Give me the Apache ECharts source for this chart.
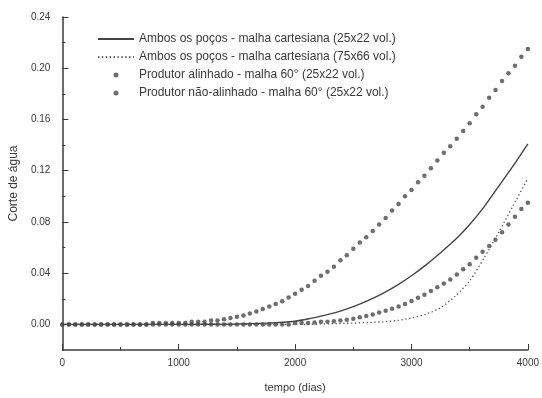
<!DOCTYPE html>
<html>
<head>
<meta charset="utf-8">
<script src="https://cdn.jsdelivr.net/npm/echarts@6/dist/echarts.min.js"></script>
<style>
  html, body { margin: 0; padding: 0; background: #fff; }
  #chart { width: 542px; height: 398px; filter: blur(0.35px); }
</style>
</head>
<body>
<div id="chart"></div>
<script>
// dias de simulação (marcadores)
const days = [0,56,111,167,222,278,333,389,444,500,556,611,667,722,778,833,889,944,1000,
  1056,1111,1167,1222,1278,1333,1389,1444,1500,1556,1611,1667,1722,1778,1833,1889,1944,2000,
  2056,2111,2167,2222,2278,2333,2389,2444,2500,2556,2611,2667,2722,2778,2833,2889,2944,3000,
  3056,3111,3167,3222,3278,3333,3389,3444,3500,3556,3611,3667,3722,3778,3833,3889,3944,4000];

// Produtor alinhado - malha 60° (25x22 vol.)
const alinhado = [0,0,0,0,0,0,0,0,0,0,0,0,0,0,0.001,0.001,0.001,0.001,0.001,
  0.001,0.002,0.002,0.002,0.003,0.003,0.004,0.005,0.006,0.007,0.0085,0.010,0.012,0.014,0.016,0.018,0.021,0.024,
  0.027,0.030,0.034,0.038,0.041,0.045,0.050,0.054,0.059,0.064,0.068,0.073,0.078,0.083,0.089,0.094,0.100,0.105,
  0.111,0.116,0.122,0.128,0.134,0.139,0.145,0.151,0.157,0.164,0.170,0.177,0.183,0.190,0.196,0.202,0.209,0.215];

// Produtor não-alinhado - malha 60° (25x22 vol.)
const naoAlinhado = [0,0,0,0,0,0,0,0,0,0,0,0,0,0,0,0,0,0,0,
  0,0,0,0,0,0,0,0,0,0,0,0,0,0,0,0,0,0.001,
  0.001,0.001,0.0015,0.002,0.002,0.0024,0.003,0.0036,0.0044,0.0055,0.0065,0.0077,0.0092,0.0106,0.0122,0.014,0.016,0.0183,
  0.0207,0.0232,0.026,0.029,0.032,0.035,0.039,0.043,0.047,0.052,0.0567,0.0612,0.066,0.072,0.078,0.084,0.090,0.095];

// Ambos os poços - malha cartesiana (25x22 vol.)
const daysCart25 = [0,500,1000,1500,1750,2000,2125,2250,2375,2500,2625,2750,2875,3000,3125,3250,3375,3500,3625,3750,3875,4000];
const cart25 = [0,0,0,0.0003,0.001,0.0025,0.0045,0.007,0.010,0.0138,0.0185,0.024,0.0305,0.038,0.0465,0.056,0.066,0.078,0.092,0.108,0.124,0.141];

// Ambos os poços - malha cartesiana (75x66 vol.)
const daysCart75 = [0,1000,2000,2500,2625,2750,2875,3000,3125,3250,3375,3500,3625,3750,3875,4000];
const cart75 = [0,0,0,0.001,0.0015,0.002,0.003,0.005,0.008,0.013,0.022,0.034,0.052,0.072,0.093,0.114];

const yMajor = [0, 0.04, 0.08, 0.12, 0.16, 0.20, 0.24];
const yMinor = [0.02, 0.06, 0.10, 0.14, 0.18, 0.22];

const names = [
  'Ambos os poços - malha cartesiana (25x22 vol.)',
  'Ambos os poços - malha cartesiana (75x66 vol.)',
  'Produtor alinhado - malha 60° (25x22 vol.)',
  'Produtor não-alinhado - malha 60° (25x22 vol.)'
];

const ink = '#3a3a3a';
const pair = (xs, ys) => xs.map((x, i) => [x, ys[i]]);

const chart = echarts.init(document.getElementById('chart'));
chart.setOption({
  animation: false,
  backgroundColor: '#fff',
  textStyle: { fontFamily: "'Liberation Sans', Arial, sans-serif", color: ink },
  grid: { left: 61, right: 11, top: 17, bottom: 41 },
  legend: {
    data: [
      { name: names[0], itemStyle: { opacity: 0 } },
      { name: names[1], itemStyle: { opacity: 0 } },
      { name: names[2] },
      { name: names[3] }
    ],
    orient: 'vertical',
    left: 92,
    top: 28,
    itemWidth: 36,
    itemHeight: 5,
    itemGap: 6,
    textStyle: { fontSize: 12, color: ink, fontFamily: "'Liberation Sans', Arial, sans-serif" }
  },
  xAxis: {
    type: 'value',
    min: 0,
    max: 4000,
    interval: 1000,
    name: 'tempo (dias)',
    nameLocation: 'middle',
    nameGap: 32,
    nameTextStyle: { fontSize: 11, color: ink },
    axisLine: { onZero: false, lineStyle: { color: ink, width: 1.5 } },
    axisTick: { inside: true, length: 6, lineStyle: { color: ink } },
    minorTick: { show: true, splitNumber: 2, length: 3, lineStyle: { color: ink } },
    axisLabel: { fontSize: 10, color: ink, margin: 8, formatter: v => String(v) },
    splitLine: { show: false }
  },
  yAxis: [
    {
      type: 'value',
      min: -0.02,
      max: 0.24,
      interval: 0.02,
      name: 'Corte de água',
      nameLocation: 'middle',
      nameGap: 41,
      nameRotate: 90,
      nameTextStyle: { fontSize: 12, color: ink },
      axisLine: { lineStyle: { color: ink, width: 1.5 } },
      axisTick: { inside: true, length: 6, customValues: yMajor, lineStyle: { color: ink } },
      axisLabel: {
        fontSize: 10, color: ink, margin: 12,
        customValues: yMajor,
        formatter: v => v.toFixed(2)
      },
      splitLine: { show: false }
    },
    {
      type: 'value',
      position: 'left',
      min: -0.02,
      max: 0.24,
      interval: 0.02,
      axisLine: { show: false },
      axisTick: { inside: true, length: 3, customValues: yMinor, lineStyle: { color: ink } },
      axisLabel: { show: false },
      splitLine: { show: false }
    }
  ],
  series: [
    {
      name: names[0],
      type: 'line',
      data: pair(daysCart25, cart25),
      smooth: 0.25,
      symbol: 'none',
      lineStyle: { color: '#444', width: 1.4 },
      itemStyle: { color: '#444' }
    },
    {
      name: names[1],
      type: 'line',
      data: pair(daysCart75, cart75),
      smooth: 0.25,
      symbol: 'none',
      lineStyle: { color: '#555', width: 1.3, type: [1.3, 2.6] },
      itemStyle: { color: '#555' }
    },
    {
      name: names[2],
      type: 'scatter',
      data: pair(days, alinhado),
      symbol: 'circle',
      symbolSize: 4.5,
      itemStyle: { color: '#4a4a4a' }
    },
    {
      name: names[3],
      type: 'scatter',
      data: pair(days, naoAlinhado),
      symbol: 'circle',
      symbolSize: 4.5,
      itemStyle: { color: '#4a4a4a' }
    }
  ]
});
window.addEventListener('resize', () => chart.resize());
</script>
</body>
</html>
